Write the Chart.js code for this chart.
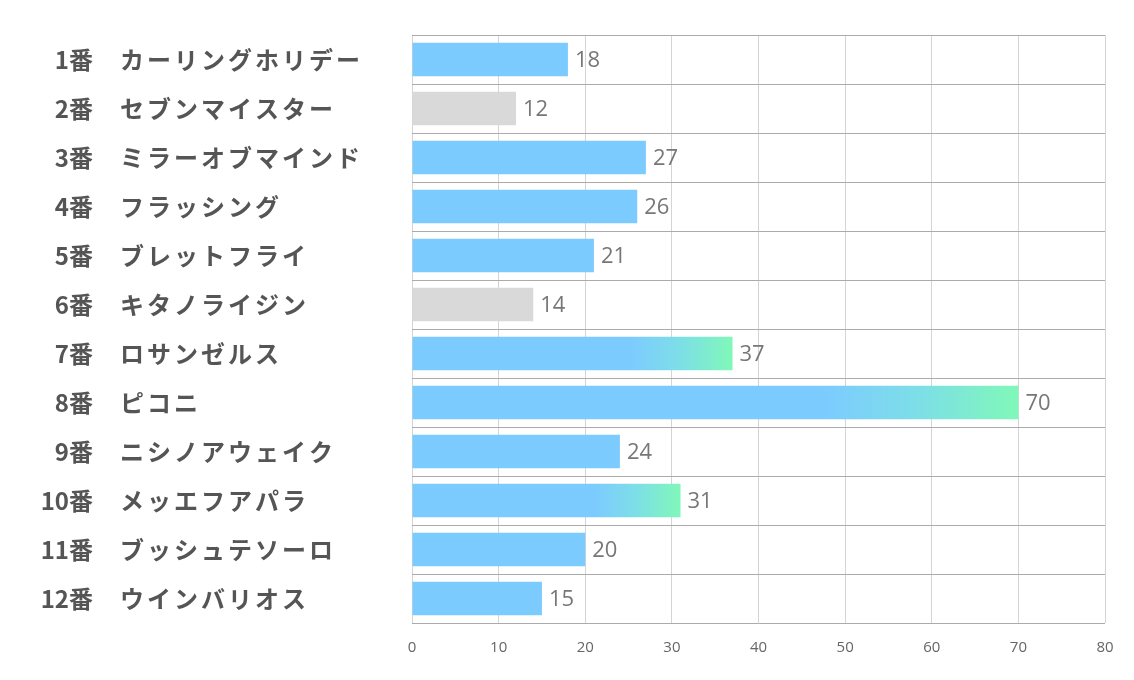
<!DOCTYPE html>
<html>
<head>
<meta charset="utf-8">
<script src="https://cdn.jsdelivr.net/npm/chart.js@4"></script>
<style>
  html, body { margin: 0; padding: 0; background: #fff; }
  #wrap { width: 1134px; height: 680px; }
</style>
</head>
<body>
<div id="wrap"><canvas id="barChart" width="1134" height="680"></canvas></div>
<script>
const horseNumbers = ['1番', '2番', '3番', '4番', '5番', '6番', '7番', '8番', '9番', '10番', '11番', '12番'];
const horseNames = ['カーリングホリデー', 'セブンマイスター', 'ミラーオブマインド', 'フラッシング', 'ブレットフライ', 'キタノライジン',
    'ロサンゼルス', 'ピコニ', 'ニシノアウェイク', 'メッエフアパラ', 'ブッシュテソーロ', 'ウインバリオス'];
const scores = [18, 12, 27, 26, 21, 14, 37, 70, 24, 31, 20, 15];
const xTicks = [0, 10, 20, 30, 40, 50, 60, 70, 80];

// top three get the gradient, bottom two are greyed out
const sorted = [...scores].sort((a, b) => b - a);
const topLimit = sorted[2];
const lowLimit = sorted[sorted.length - 2];

function barColor(context) {
    const value = context.raw;
    if (value <= lowLimit) return '#d9d9d9';
    if (value < topLimit) return '#7ccbff';
    const chart = context.chart;
    if (!chart.chartArea) return '#7ccbff';
    const x = chart.scales.x;
    const x0 = x.getPixelForValue(0);
    const x1 = x.getPixelForValue(value);
    const grad = chart.ctx.createLinearGradient(x0, 0, x1, 0);
    grad.addColorStop(0, '#7ccbff');
    grad.addColorStop(0.68, '#7ccbff');
    grad.addColorStop(0.84, '#7ddfe6');
    grad.addColorStop(1, '#80f8b8');
    return grad;
}

const rowLabels = {
    id: 'rowLabels',
    afterDraw(chart) {
        const ctx = chart.ctx;
        const y = chart.scales.y;
        ctx.save();
        ctx.font = 'bold 24px "Noto Sans CJK JP"';
        ctx.fillStyle = '#555555';
        ctx.textBaseline = 'middle';
        horseNumbers.forEach((num, i) => {
            const py = y.getPixelForTick(i);
            ctx.textAlign = 'right';
            ctx.fillText(num, 93, py);
            ctx.textAlign = 'left';
            ctx.letterSpacing = '3px';
            ctx.fillText(horseNames[i], 120, py);
            ctx.letterSpacing = '0px';
        });
        ctx.restore();
    }
};

const valueLabels = {
    id: 'valueLabels',
    afterDatasetsDraw(chart) {
        const ctx = chart.ctx;
        const meta = chart.getDatasetMeta(0);
        ctx.save();
        ctx.font = '22px "Open Sans"';
        ctx.fillStyle = '#777777';
        ctx.textAlign = 'left';
        ctx.textBaseline = 'middle';
        meta.data.forEach((bar, i) => {
            ctx.fillText(String(scores[i]), bar.x + 7, bar.y + 1);
        });
        ctx.restore();
    }
};

const ctx = document.getElementById('barChart').getContext('2d');
new Chart(ctx, {
    type: 'bar',
    data: {
        labels: horseNames,
        datasets: [{
            data: scores,
            backgroundColor: barColor,
            borderWidth: 0,
            barPercentage: 0.68,
            categoryPercentage: 1
        }]
    },
    options: {
        indexAxis: 'y',
        responsive: false,
        animation: false,
        layout: { padding: { left: 412, right: 29, top: 35, bottom: 7 } },
        plugins: {
            legend: { display: false },
            tooltip: { enabled: false }
        },
        scales: {
            x: {
                min: 0,
                max: 80,
                afterBuildTicks: (axis) => { axis.ticks = xTicks.map(v => ({ value: v })); },
                grid: { color: '#d4d4d4', drawTicks: false },
                border: { display: false },
                ticks: { color: '#666666', font: { family: 'Open Sans', size: 15 }, padding: 16 }
            },
            y: {
                grid: { color: '#ababab', drawTicks: false, offset: true },
                border: { display: false },
                ticks: { display: false }
            }
        }
    },
    plugins: [rowLabels, valueLabels]
});
</script>
</body>
</html>
